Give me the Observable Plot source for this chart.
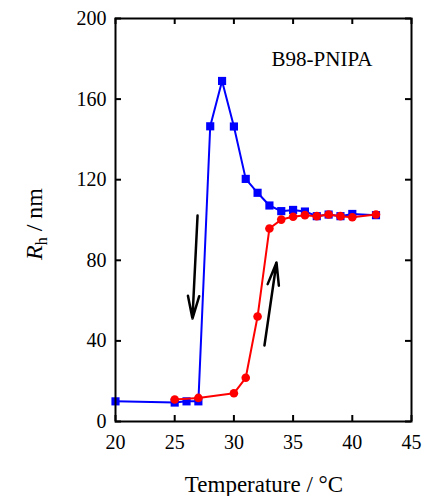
<!DOCTYPE html>
<html>
<head>
<meta charset="utf-8">
<script src="https://cdn.jsdelivr.net/npm/d3@7"></script>
<script src="https://cdn.jsdelivr.net/npm/@observablehq/plot@0.6"></script>
<style>
  html, body { margin: 0; padding: 0; background: #fff; }
  #chart { width: 424px; height: 496px; font-family: "Liberation Serif"; }
</style>
</head>
<body>
<div id="chart"></div>
<script>
// Cooling run (blue squares)
const coolT  = [20, 25, 26, 27, 28, 29, 30, 31, 32, 33, 34, 35, 36, 37, 38, 39, 40, 42];
const coolRh = [10, 9.4, 10, 10, 146.5, 169, 146.4, 120.4, 113.5, 107.2, 104.4, 105, 104.2, 101.9, 102.7, 101.9, 103, 102.4];
// Heating run (red circles)
const heatT  = [25, 27, 30, 31, 32, 33, 34, 35, 36, 37, 38, 39, 40, 42];
const heatRh = [10.9, 11.7, 14, 21.7, 52.1, 95.8, 100.2, 101.6, 102.4, 101.9, 102.7, 101.9, 101.4, 102.7];
// Axis ticks
const xTicks = [20, 25, 30, 35, 40, 45];
const yTicks = [0, 40, 80, 120, 160, 200];
// Arrows (direction of temperature change)
const arrowX1 = [26.93, 32.58];
const arrowY1 = [102.2, 37.7];
const arrowX2 = [26.5, 33.6];
const arrowY2 = [51.1, 78.9];
const sampleLabel = ["B98-PNIPA"];

const cool = coolT.map((t, i) => ({T: t, Rh: coolRh[i]}));
const heat = heatT.map((t, i) => ({T: t, Rh: heatRh[i]}));
const arrows = arrowX1.map((x, i) => ({x1: x, y1: arrowY1[i], x2: arrowX2[i], y2: arrowY2[i]}));

const W = 424, H = 496;
const mt = 18, mb = 75, ml = 115, mr = 13;
const innerH = H - mt - mb;
const innerW = W - ml - mr;
const serif = "Liberation Serif";

const plot = Plot.plot({
  width: W,
  height: H,
  marginTop: mt,
  marginBottom: mb,
  marginLeft: ml,
  marginRight: mr,
  style: {fontFamily: serif, fontSize: "20px", color: "#000", background: "#fff"},
  x: {domain: [20, 45]},
  y: {domain: [0, 200]},
  marks: [
    // inward ticks
    Plot.ruleX(xTicks, {x: d => d, insetTop: innerH - 6, stroke: "#000", strokeWidth: 2}),
    Plot.ruleX(xTicks, {x: d => d, insetBottom: innerH - 6, stroke: "#000", strokeWidth: 2}),
    Plot.ruleY(yTicks, {y: d => d, insetRight: innerW - 6, stroke: "#000", strokeWidth: 2}),
    Plot.ruleY(yTicks, {y: d => d, insetLeft: innerW - 6, stroke: "#000", strokeWidth: 2}),
    Plot.axisX({ticks: xTicks, tickSize: 0, tickPadding: 13, label: null, fontSize: 20, fontFamily: serif}),
    Plot.axisY({ticks: yTicks, tickSize: 0, tickPadding: 9, label: null, fontSize: 20, fontFamily: serif}),
    // series
    Plot.line(cool, {x: "T", y: "Rh", stroke: "#0000ff", strokeWidth: 2}),
    Plot.dot(cool, {x: "T", y: "Rh", symbol: "square", r: 4.6, fill: "#0000ff", stroke: "none"}),
    Plot.line(heat, {x: "T", y: "Rh", stroke: "#ff0000", strokeWidth: 2}),
    Plot.dot(heat, {x: "T", y: "Rh", symbol: "circle", r: 4.3, fill: "#ff0000", stroke: "none"}),
    // arrows
    Plot.arrow(arrows, {x1: "x1", y1: "y1", x2: "x2", y2: "y2", stroke: "#000", strokeWidth: 2.5, headLength: 14, headAngle: 28}),
    // label
    Plot.text(sampleLabel, {x: 37.44, y: 179.6, text: d => d, fontSize: 21, fontFamily: serif, fill: "#000"}),
    Plot.frame({stroke: "#000", strokeWidth: 2})
  ]
});

const svg = d3.select(plot);
// x-axis title
svg.append("text")
  .attr("x", 264)
  .attr("y", 492)
  .attr("text-anchor", "middle")
  .attr("font-size", 23)
  .attr("fill", "#000")
  .text("Temperature / °C");
// y-axis title with subscript
const yl = svg.append("text")
  .attr("transform", "translate(42,224) rotate(-90)")
  .attr("text-anchor", "middle")
  .attr("font-size", 24)
  .attr("fill", "#000");
yl.append("tspan").attr("font-style", "italic").text("R");
yl.append("tspan").attr("font-size", 16).attr("dy", 5).text("h");
yl.append("tspan").attr("dy", -5).text(" / nm");

svg.selectAll("text, tspan").attr("font-family", serif).style("font-family", serif);

document.getElementById("chart").appendChild(plot);
</script>
</body>
</html>
